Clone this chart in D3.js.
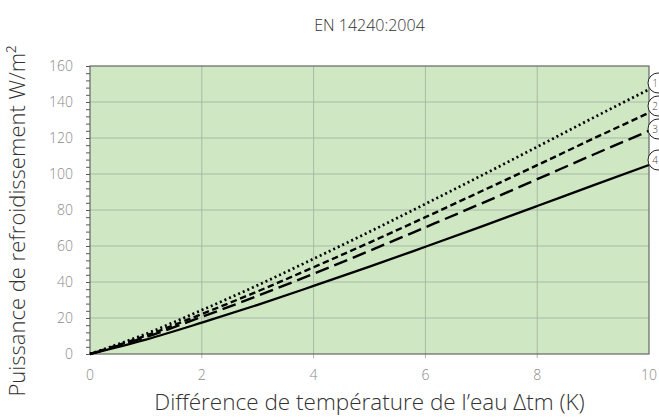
<!DOCTYPE html>
<html>
<head>
<meta charset="utf-8">
<script src="https://cdn.jsdelivr.net/npm/d3@7"></script>
<style>
  body { margin: 0; background: #fff; }
  text { font-family: "Open Sans", "Noto Sans", sans-serif; font-weight: 300; }
</style>
</head>
<body>
<svg></svg>
<script>
const width = 659;
const height = 419;

// DATA
const dt = [0, 1, 2, 3, 4, 5, 6, 7, 8, 9, 10];
const curve1 = [0, 11.2, 24.4, 38.2, 52.9, 67.9, 83.4, 99.1, 115.1, 131.2, 147];
const curve2 = [0, 10.2, 22.2, 34.8, 48.2, 61.9, 76.0, 90.4, 104.9, 119.6, 134];
const curve3 = [0, 9.4, 20.6, 32.3, 44.6, 57.3, 70.4, 83.6, 97.1, 110.7, 124];
const curve4 = [0, 8.0, 17.4, 27.3, 37.8, 48.5, 59.6, 70.8, 82.2, 93.7, 105];
const curveLabels = ['1', '2', '3', '4'];
const xTicks = [0, 2, 4, 6, 8, 10];
const yTicks = [0, 20, 40, 60, 80, 100, 120, 140, 160];

const margin = { top: 66, right: 10, bottom: 65, left: 90 };

const svg = d3.select('svg')
  .attr('width', width)
  .attr('height', height);

const x = d3.scaleLinear().domain([0, 10]).range([margin.left, width - margin.right]);
const y = d3.scaleLinear().domain([0, 160]).range([height - margin.bottom, margin.top]);

// plot background
svg.append('rect')
  .attr('x', x(0)).attr('y', y(160))
  .attr('width', x(10) - x(0)).attr('height', y(0) - y(160))
  .attr('fill', '#cfe8c3');

// grid
svg.append('g')
  .selectAll('line')
  .data(yTicks.slice(1, -1))
  .enter().append('line')
  .attr('x1', x(0)).attr('x2', x(10))
  .attr('y1', d => y(d)).attr('y2', d => y(d))
  .attr('stroke', '#a9b9a6').attr('stroke-width', 1);

svg.append('g')
  .selectAll('line')
  .data(xTicks.slice(1, -1))
  .enter().append('line')
  .attr('x1', d => x(d)).attr('x2', d => x(d))
  .attr('y1', y(160)).attr('y2', y(0) + 4)
  .attr('stroke', '#a9b9a6').attr('stroke-width', 1);

// left axis with minor ticks
const yAxis = svg.append('g')
  .attr('transform', `translate(${x(0)},0)`)
  .call(d3.axisLeft(y).tickValues(d3.range(0, 161, 4)).tickSize(4).tickFormat(''));
yAxis.select('.domain').remove();
yAxis.selectAll('line').attr('stroke', '#555');

svg.append('g')
  .selectAll('text')
  .data(yTicks)
  .enter().append('text')
  .attr('x', x(0) - 17)
  .attr('y', d => y(d))
  .attr('dy', '0.35em')
  .attr('text-anchor', 'end')
  .attr('font-size', 14)
  .attr('fill', '#8a8a8a')
  .text(d => d);

svg.append('g')
  .selectAll('text')
  .data(xTicks)
  .enter().append('text')
  .attr('x', d => x(d))
  .attr('y', y(0) + 26)
  .attr('text-anchor', 'middle')
  .attr('font-size', 14)
  .attr('fill', '#8a8a8a')
  .text(d => d);

// frame
svg.append('rect')
  .attr('x', x(0)).attr('y', y(160))
  .attr('width', x(10) - x(0)).attr('height', y(0) - y(160))
  .attr('fill', 'none')
  .attr('stroke', '#666').attr('stroke-width', 1.2);

// curves
const series = [
  { values: curve1, dash: '2 3', width: 2.7 },
  { values: curve2, dash: '6.5 3.5', width: 2.4 },
  { values: curve3, dash: '14 6', width: 2.4 },
  { values: curve4, dash: null, width: 2.3 }
];

const line = d3.line()
  .x((d, i) => x(dt[i]))
  .y(d => y(d))
  .curve(d3.curveMonotoneX);

svg.append('g')
  .selectAll('path')
  .data(series)
  .enter().append('path')
  .attr('d', s => line(s.values))
  .attr('fill', 'none')
  .attr('stroke', '#000')
  .attr('stroke-width', s => s.width)
  .attr('stroke-dasharray', s => s.dash);

// circled labels at the right edge
const labelY = [83, 106, 129, 160].map(v => y.invert(v));
const labels = svg.append('g')
  .selectAll('g')
  .data(curveLabels)
  .enter().append('g')
  .attr('transform', (d, i) => `translate(${x(10) + 9},${y(labelY[i])})`);
labels.append('circle')
  .attr('r', 10)
  .attr('fill', '#fff')
  .attr('stroke', '#222')
  .attr('stroke-width', 1);
labels.append('text')
  .attr('x', -3)
  .attr('dy', '0.35em')
  .attr('text-anchor', 'middle')
  .attr('font-size', 10)
  .attr('fill', '#444')
  .text(d => d);

// titles
svg.append('text')
  .attr('x', (x(0) + x(10)) / 2)
  .attr('y', 31)
  .attr('text-anchor', 'middle')
  .attr('font-size', 16)
  .attr('fill', '#333')
  .text('EN 14240:2004');

svg.append('text')
  .attr('x', (x(0) + x(10)) / 2)
  .attr('y', 410)
  .attr('text-anchor', 'middle')
  .attr('font-size', 22.5)
  .attr('fill', '#333')
  .text('Différence de température de l’eau Δtm (K)');

svg.append('text')
  .attr('transform', 'translate(25,221) rotate(-90)')
  .attr('text-anchor', 'middle')
  .attr('font-size', 22)
  .attr('fill', '#333')
  .text('Puissance de refroidissement W/m²');
</script>
</body>
</html>
